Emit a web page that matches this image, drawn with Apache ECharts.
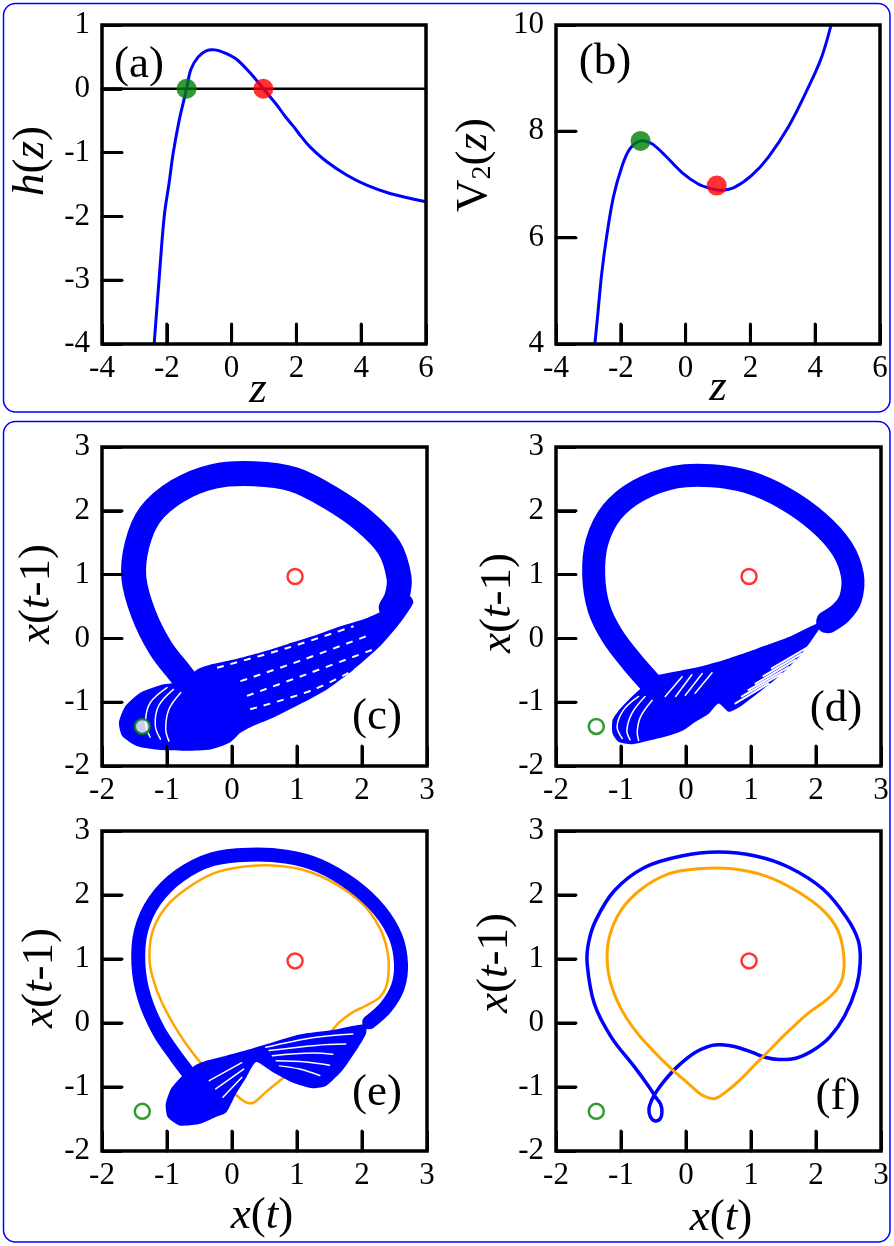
<!DOCTYPE html>
<html>
<head>
<meta charset="utf-8">
<script src="https://cdn.jsdelivr.net/npm/echarts@6/dist/echarts.min.js"></script>
<style>
    html, body { margin: 0; padding: 0; background: #fff; }
    #chart { width: 894px; height: 1246px; }
</style>
</head>
<body>
<div id="chart"></div>
<script>
    // (a) h(z) and (b) V2(z)
    const hCurve = [[-2.39, -4.0], [-2.24, -3.0], [-2.08, -2.0], [-1.93, -1.48], [-1.80, -1.0], [-1.62, -0.50],
        [-1.39, 0], [-1.26, 0.30], [-1.03, 0.50], [-0.77, 0.60], [-0.51, 0.61], [-0.20, 0.56], [0.16, 0.46],
        [0.57, 0.25], [0.98, 0], [1.39, -0.25], [1.65, -0.43], [1.91, -0.59], [2.15, -0.75], [2.42, -0.91],
        [2.93, -1.14], [3.55, -1.35], [4.17, -1.51], [4.89, -1.64], [6.0, -1.77]]
    const hZeroLine = [[-4, 0], [6, 0]]
    const hDots = [[-1.39, 0], [0.98, 0]]

    const vCurve = [[-2.80, 4.0], [-2.71, 4.56], [-2.59, 5.32], [-2.44, 6.01], [-2.23, 6.76], [-1.97, 7.33],
        [-1.72, 7.67], [-1.39, 7.82], [-1.05, 7.77], [-0.64, 7.55], [-0.12, 7.23], [0.39, 7.01], [0.80, 6.92],
        [1.10, 6.89], [1.52, 6.95], [2.04, 7.17], [2.55, 7.51], [3.17, 8.08], [3.79, 8.83], [4.20, 9.40], [4.49, 10.0]]
    const vDots = [[-1.39, 7.82], [0.96, 6.98]]

    // tick marks (inside, left and bottom only)
    const xTicksTop = [-2, 0, 2, 4]
    const yTicksA = [-3, -2, -1, 0]
    const yTicksB = [6, 8]
    const ticksXT = [-1, 0, 1, 2]

    // fixed points in the (x(t), x(t-1)) plane
    const fixedGreen = [-1.38, -1.38]
    const fixedRed = [0.97, 0.97]

    // (c) attractor: centre line of the ring, outline of the lower fan, white gaps
    const ringC = [[-0.59, -0.82], [-0.79, -0.56], [-1.10, -0.15], [-1.36, 0.38], [-1.51, 0.95], [-1.46, 1.47],
        [-1.26, 1.94], [-0.84, 2.31], [-0.28, 2.54], [0.34, 2.58], [0.95, 2.49], [1.52, 2.20], [2.03, 1.84],
        [2.42, 1.42], [2.57, 0.95], [2.54, 0.66], [2.45, 0.48]]
    const fanC = [[2.74, 0.66], [2.49, 0.51], [2.08, 0.32], [1.67, 0.19], [1.26, 0.04], [0.85, -0.09], [0.44, -0.22],
        [0.03, -0.33], [-0.33, -0.41], [-0.54, -0.49], [-0.74, -0.67], [-1.05, -0.72], [-1.41, -0.85], [-1.64, -1.06],
        [-1.74, -1.32], [-1.69, -1.53], [-1.46, -1.69], [-1.10, -1.75], [-0.69, -1.76], [-0.33, -1.74], [-0.03, -1.63],
        [0.13, -1.48], [0.33, -1.37], [0.64, -1.24], [1.05, -1.03], [1.46, -0.80], [1.87, -0.49], [2.28, -0.12],
        [2.59, 0.25], [2.79, 0.56]]
    const arcsC = [
        [[-1.00, -0.77], [-1.26, -1.01], [-1.33, -1.32], [-1.26, -1.55]],
        [[-0.90, -0.80], [-1.13, -1.06], [-1.18, -1.37], [-1.10, -1.58]],
        [[-0.79, -0.85], [-0.97, -1.11], [-1.02, -1.42], [-0.97, -1.61]]
    ]
    const dashesC = [
        [[-0.23, -0.46], [0.85, -0.15], [1.87, 0.19]],
        [[0.13, -0.67], [1.05, -0.35], [2.08, 0.04]],
        [[0.23, -0.90], [1.15, -0.56], [2.18, -0.17]],
        [[0.28, -1.11], [1.26, -0.80], [2.08, -0.38]]
    ]

    // (d) attractor
    const ringD = [[-0.22, -1.10], [-0.52, -0.73], [-0.83, -0.37], [-1.14, 0.05], [-1.34, 0.47], [-1.42, 0.99],
        [-1.37, 1.51], [-1.14, 1.98], [-0.73, 2.32], [-0.16, 2.53], [0.40, 2.55], [0.96, 2.45], [1.53, 2.19],
        [2.04, 1.82], [2.40, 1.41], [2.56, 0.99], [2.53, 0.62], [2.38, 0.40], [2.18, 0.26]]
    const fanD = [[2.09, 0.26], [1.58, 0.02], [1.07, -0.17], [0.55, -0.35], [0.14, -0.46], [-0.32, -0.55],
        [-0.47, -0.59], [-0.83, -0.91], [-1.01, -1.10], [-1.13, -1.28], [-1.13, -1.49], [-1.04, -1.62], [-0.83, -1.66],
        [-0.52, -1.59], [-0.22, -1.51], [-0.04, -1.44], [0.14, -1.31], [0.35, -1.18], [0.50, -1.02], [0.66, -1.15],
        [0.86, -1.05], [1.17, -0.81], [1.48, -0.55], [1.78, -0.24], [2.04, 0.13]]
    const arcsD = [
        [[-0.73, -0.91], [-0.96, -1.12], [-1.06, -1.38], [-0.98, -1.57]],
        [[-0.63, -0.91], [-0.83, -1.17], [-0.91, -1.44], [-0.86, -1.59]],
        [[-0.52, -0.97], [-0.70, -1.23], [-0.75, -1.46], [-0.73, -1.60]],
        [[-0.32, -0.91], [-0.06, -0.60]],
        [[-0.16, -0.91], [0.09, -0.57]],
        [[-0.01, -0.89], [0.25, -0.55]],
        [[0.14, -0.86], [0.40, -0.54]]
    ]
    const stripesD = [
        [[0.76, -1.02], [1.27, -0.71]],
        [[0.86, -0.91], [1.48, -0.55]],
        [[0.96, -0.81], [1.58, -0.45]],
        [[1.07, -0.71], [1.68, -0.34]],
        [[1.19, -0.59], [1.78, -0.24]],
        [[1.32, -0.47], [1.89, -0.13]]
    ]

    // (e) attractor and the orange orbit
    const ringE = [[-0.50, -1.0], [-0.85, -0.54], [-1.13, -0.12], [-1.35, 0.40], [-1.44, 0.92], [-1.40, 1.44],
        [-1.19, 1.91], [-0.81, 2.30], [-0.30, 2.56], [0.27, 2.63], [0.83, 2.60], [1.34, 2.46], [1.86, 2.15],
        [2.27, 1.76], [2.52, 1.34], [2.60, 0.92], [2.55, 0.56], [2.37, 0.25], [2.11, 0.01]]
    const fanE = [[2.06, -0.02], [1.55, -0.11], [1.04, -0.18], [0.63, -0.30], [0.27, -0.41], [-0.09, -0.51],
        [-0.40, -0.59], [-0.58, -0.67], [-0.76, -0.82], [-0.94, -1.03], [-1.02, -1.27], [-0.99, -1.47], [-0.81, -1.60],
        [-0.50, -1.58], [-0.25, -1.47], [-0.09, -1.40], [0.06, -1.11], [0.22, -0.85], [0.37, -0.61], [0.63, -0.77],
        [0.93, -0.93], [1.24, -1.02], [1.45, -0.98], [1.70, -0.74], [1.91, -0.43], [2.06, -0.17]]
    const stripesE = [
        [[0.52, -0.38], [1.24, -0.23], [1.86, -0.17]],
        [[0.57, -0.43], [1.29, -0.35], [1.75, -0.33]],
        [[0.62, -0.51], [1.24, -0.47], [1.55, -0.49]],
        [[0.68, -0.59], [1.14, -0.61], [1.50, -0.66]],
        [[0.73, -0.67], [1.04, -0.72], [1.35, -0.82]],
        [[-0.35, -0.90], [0.15, -0.62]],
        [[-0.25, -1.03], [0.18, -0.72]],
        [[-0.14, -1.16], [0.15, -0.85]]
    ]
    const orbitE = [[-1.27, 1.03], [-1.22, 1.44], [-1.02, 1.81], [-0.71, 2.09], [-0.30, 2.33], [0.16, 2.44],
        [0.63, 2.46], [1.14, 2.38], [1.60, 2.17], [2.01, 1.86], [2.27, 1.49], [2.39, 1.13], [2.41, 0.82], [2.37, 0.56],
        [2.27, 0.40], [2.06, 0.27], [1.86, 0.17], [1.65, 0.01], [1.45, -0.22], [1.14, -0.54], [0.83, -0.82],
        [0.52, -1.08], [0.34, -1.24], [0.24, -1.25], [0.14, -1.19], [-0.04, -1.03], [-0.30, -0.82], [-0.55, -0.54],
        [-0.81, -0.17], [-1.07, 0.30], [-1.22, 0.71]]

    // (f) periodic orbits
    const orbitFBlue = [[-1.52, 0.92], [-1.50, 1.25], [-1.39, 1.60], [-1.10, 2.07], [-0.64, 2.43], [-0.07, 2.61],
        [0.50, 2.67], [1.07, 2.61], [1.59, 2.43], [2.11, 2.09], [2.47, 1.65], [2.65, 1.29], [2.68, 0.95], [2.62, 0.56],
        [2.44, 0.11], [2.21, -0.22], [1.95, -0.43], [1.69, -0.55], [1.43, -0.57], [1.23, -0.54], [1.02, -0.46],
        [0.76, -0.37], [0.55, -0.34], [0.40, -0.35], [0.14, -0.46], [-0.12, -0.67], [-0.33, -0.90], [-0.46, -1.08],
        [-0.53, -1.21], [-0.57, -1.34], [-0.55, -1.46], [-0.48, -1.53], [-0.40, -1.50], [-0.37, -1.40], [-0.39, -1.27],
        [-0.48, -1.14], [-0.56, -1.01], [-0.79, -0.69], [-1.15, -0.22], [-1.41, 0.30]]
    const orbitFOrange = [[-1.21, 0.92], [-1.18, 1.34], [-1.00, 1.76], [-0.69, 2.09], [-0.27, 2.33], [0.19, 2.41],
        [0.71, 2.41], [1.22, 2.30], [1.69, 2.07], [2.11, 1.76], [2.34, 1.44], [2.43, 1.03], [2.41, 0.71], [2.31, 0.51],
        [2.11, 0.32], [1.90, 0.17], [1.69, -0.02], [1.48, -0.22], [1.28, -0.43], [1.07, -0.64], [0.84, -0.88],
        [0.61, -1.08], [0.45, -1.18], [0.35, -1.17], [0.22, -1.11], [0.04, -0.95], [-0.22, -0.72], [-0.48, -0.46],
        [-0.74, -0.17], [-0.97, 0.17], [-1.13, 0.53]]

    const FONT = '"Liberation Serif", "Times New Roman", Times, serif'
    const BLUE = '#0000ff'
    const ORANGE = '#ffa500'
    const GREEN = '#008000'
    const RED = '#ff0000'
    const TICK_PX = 20

    const gridBoxes = [
        { left: 102, top: 25, width: 324, height: 319 },
        { left: 556, top: 25, width: 324, height: 319 },
        { left: 102, top: 447, width: 325, height: 319 },
        { left: 556, top: 447, width: 325, height: 319 },
        { left: 102, top: 831, width: 325, height: 320 },
        { left: 556, top: 831, width: 325, height: 320 }
    ]
    const grids = gridBoxes.map(g => Object.assign({ show: false }, g))

    const xRanges = [[-4, 6, 2], [-4, 6, 2], [-2, 3, 1], [-2, 3, 1], [-2, 3, 1], [-2, 3, 1]]
    const yRanges = [[-4, 1, 1], [4, 10, 2], [-2, 3, 1], [-2, 3, 1], [-2, 3, 1], [-2, 3, 1]]
    const tickSets = [[xTicksTop, yTicksA], [xTicksTop, yTicksB], [ticksXT, ticksXT], [ticksXT, ticksXT],
        [ticksXT, ticksXT], [ticksXT, ticksXT]]

    function axis (range, gridIndex, margin) {
        return {
            type: 'value', gridIndex, min: range[0], max: range[1], interval: range[2],
            axisLine: { show: false, onZero: false },
            splitLine: { show: false },
            axisTick: { show: true, inside: true, length: TICK_PX, lineStyle: { color: '#000', width: 3 } },
            axisLabel: { color: '#000', fontFamily: FONT, fontSize: 31, margin, showMinLabel: true, showMaxLabel: true }
        }
    }

    // smooth curve through the read points, drawn in the axis coordinates
    function curve (idx, data, color, width, opts) {
        const o = opts || {}
        return {
            type: 'custom', xAxisIndex: idx, yAxisIndex: idx, data, z: o.z || 2,
            renderItem (params, api) {
                if (params.dataIndex !== 0) return null
                const points = data.map(p => api.coord(p))
                return {
                    type: o.closed ? 'polygon' : 'polyline',
                    shape: { points, smooth: o.smooth == null ? 0.35 : o.smooth },
                    style: {
                        fill: o.fill || 'none', stroke: o.fill ? null : color, lineWidth: width,
                        lineCap: o.dash ? 'butt' : 'round', lineJoin: o.sharp ? 'miter' : 'round', lineDash: o.dash || null
                    }
                }
            }
        }
    }

    // thin white gaps between the strands of an attractor
    const gaps = (idx, list, width, dash) => list.map(d => curve(idx, d, '#fff', width, { dash, z: 3 }))

    // black frame of each panel, from the axis extents
    function frame (idx) {
        const [x0, x1] = xRanges[idx]
        const [y0, y1] = yRanges[idx]
        return curve(idx, [[x0, y0], [x1, y0], [x1, y1], [x0, y1]], '#000', 3.5, { closed: true, smooth: 0, sharp: true, z: 7 })
    }

    // inward tick marks: short segments in axis units
    function ticks (idx) {
        const [xs, ys] = tickSets[idx]
        const [x0, x1] = xRanges[idx]
        const [y0, y1] = yRanges[idx]
        const dx = (x1 - x0) * TICK_PX / gridBoxes[idx].width
        const dy = (y1 - y0) * TICK_PX / gridBoxes[idx].height
        const segs = xs.map(v => [[v, y0], [v, y0 + dy]]).concat(ys.map(v => [[x0, v], [x0 + dx, v]]))
        return segs.map(s => curve(idx, s, '#000', 3, { smooth: 0, z: 8 }))
    }

    function dots (idx, data, colors, hollow) {
        return {
            type: 'scatter', xAxisIndex: idx, yAxisIndex: idx, z: 5,
            symbolSize: hollow ? 15 : 20,
            data: data.map((p, i) => ({
                value: p,
                itemStyle: hollow ? { color: '#fff', borderColor: colors[i], borderWidth: 2.5 } : { color: colors[i] }
            }))
        }
    }

    const fixedPts = [fixedGreen, fixedRed]
    const series = [
        curve(0, hZeroLine, '#000', 2.5, { smooth: 0 }),
        curve(0, hCurve, BLUE, 3),
        dots(0, hDots, [GREEN, RED]),
        curve(1, vCurve, BLUE, 3),
        dots(1, vDots, [GREEN, RED]),

        curve(2, fanC, BLUE, 0, { closed: true, fill: BLUE, smooth: 0.2 }),
        curve(2, ringC, BLUE, 25),
        ...gaps(2, arcsC, 1.5),
        ...gaps(2, dashesC, 2, [7, 7]),
        dots(2, fixedPts, [GREEN, RED], true),

        curve(3, fanD, BLUE, 0, { closed: true, fill: BLUE, smooth: 0.2 }),
        curve(3, ringD, BLUE, 23),
        ...gaps(3, arcsD, 1.5),
        ...gaps(3, stripesD, 2),
        dots(3, fixedPts, [GREEN, RED], true),

        curve(4, orbitE, ORANGE, 2.5, { closed: true, z: 1 }),
        curve(4, fanE, BLUE, 0, { closed: true, fill: BLUE, smooth: 0.2 }),
        curve(4, ringE, BLUE, 14),
        ...gaps(4, stripesE, 1.5),
        dots(4, fixedPts, [GREEN, RED], true),

        curve(5, orbitFBlue, BLUE, 3.5, { closed: true }),
        curve(5, orbitFOrange, ORANGE, 3, { closed: true, z: 3 }),
        dots(5, fixedPts, [GREEN, RED], true)
    ].concat(gridBoxes.map((g, i) => frame(i)), ...gridBoxes.map((g, i) => ticks(i)))

    const rich = {
        i: { fontFamily: FONT, fontSize: 45, fontStyle: 'italic', fill: '#000' },
        s: { fontFamily: FONT, fontSize: 28, fill: '#000', verticalAlign: 'bottom', lineHeight: 30 }
    }

    function text (x, y, str, rotate) {
        return {
            type: 'text', x, y, rotation: rotate ? Math.PI / 2 : 0,
            style: { text: str, align: 'center', verticalAlign: 'middle', fontFamily: FONT, fontSize: 45, fill: '#000', rich }
        }
    }

    const box = (x, y, w, h) => ({
        type: 'rect', z: -10, shape: { x, y, width: w, height: h, r: 12 },
        style: { fill: 'none', stroke: BLUE, lineWidth: 1.5 }
    })

    const chart = echarts.init(document.getElementById('chart'), null, { renderer: 'canvas' })
    chart.setOption({
        animation: false,
        backgroundColor: '#fff',
        textStyle: { fontFamily: FONT },
        grid: grids,
        xAxis: xRanges.map((r, i) => axis(r, i, 9)),
        yAxis: yRanges.map((r, i) => axis(r, i, 12)),
        series,
        graphic: [
            box(3.5, 3.5, 886.5, 408.5),
            box(3.5, 421.5, 886.5, 820.5),
            text(139, 65, '(a)'),
            text(605, 62, '(b)'),
            text(377, 717, '(c)'),
            text(836, 709, '(d)'),
            text(377, 1093, '(e)'),
            text(838, 1097, '(f)'),
            text(31, 161, '{i|h}({i|z})', true),
            text(474, 165, 'V{s|2}({i|z})', true),
            text(258, 390, '{i|z}'),
            text(718, 388, '{i|z}'),
            text(37, 594, '{i|x}({i|t}-1)', true),
            text(498, 603, '{i|x}({i|t}-1)', true),
            text(40, 978, '{i|x}({i|t}-1)', true),
            text(495, 963, '{i|x}({i|t}-1)', true),
            text(262, 1216, '{i|x}({i|t})'),
            text(721, 1218, '{i|x}({i|t})')
        ]
    })
</script>
</body>
</html>
